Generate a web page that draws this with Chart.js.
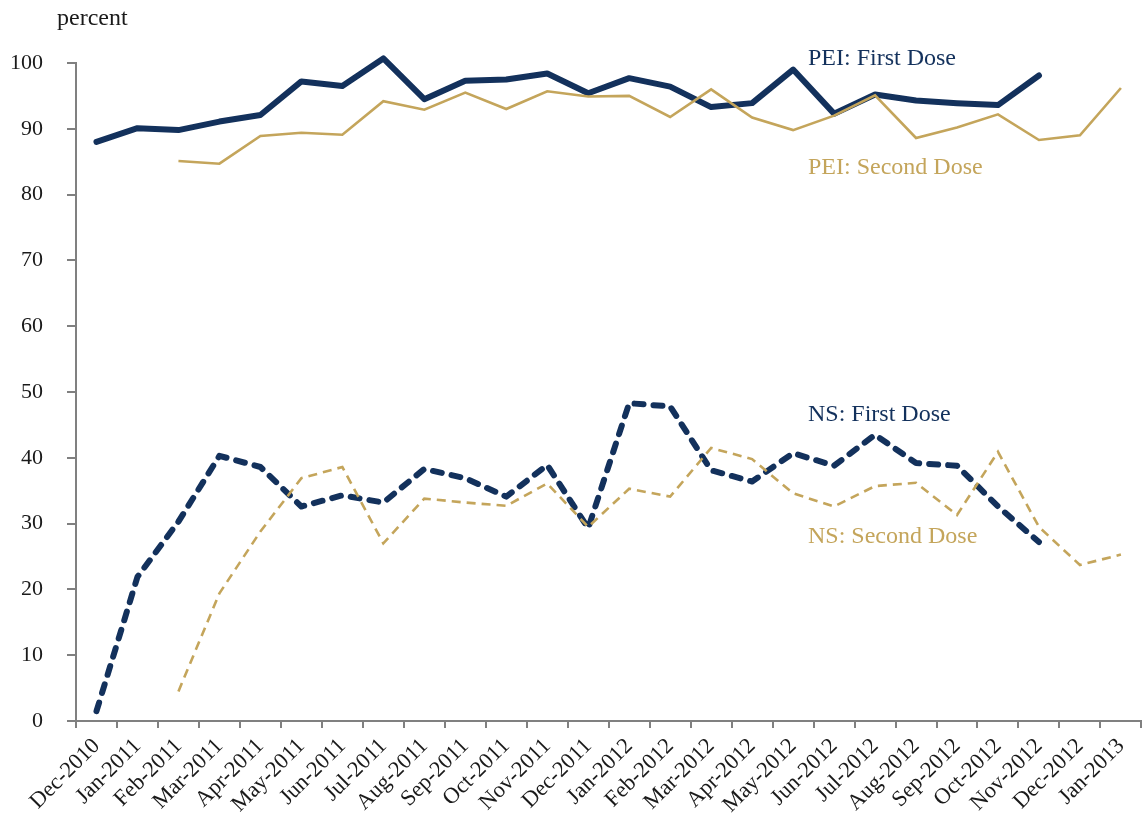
<!DOCTYPE html>
<html><head><meta charset="utf-8">
<script src="https://cdn.jsdelivr.net/npm/chart.js@4/dist/chart.umd.min.js"></script>
<style>html,body{margin:0;padding:0;background:#fff;overflow:hidden}#wrap{width:1145px;height:816px;position:relative}</style>
</head><body><div id="wrap"><canvas id="c" width="1145" height="816"></canvas></div>
<script>
const categories = ["Dec-2010","Jan-2011","Feb-2011","Mar-2011","Apr-2011","May-2011","Jun-2011","Jul-2011","Aug-2011","Sep-2011","Oct-2011","Nov-2011","Dec-2011","Jan-2012","Feb-2012","Mar-2012","Apr-2012","May-2012","Jun-2012","Jul-2012","Aug-2012","Sep-2012","Oct-2012","Nov-2012","Dec-2012","Jan-2013"];
const peiFirst  = [88.0,90.1,89.8,91.1,92.1,97.2,96.5,100.7,94.5,97.3,97.5,98.4,95.4,97.7,96.4,93.3,93.9,99.0,92.3,95.2,94.3,93.9,93.6,98.1,null,null];
const peiSecond = [null,null,85.1,84.7,88.9,89.4,89.1,94.2,92.9,95.5,93.0,95.7,94.9,95.0,91.8,96.0,91.7,89.8,92.0,95.1,88.6,90.2,92.2,88.3,89.0,96.2];
const nsFirst   = [1.5,21.9,30.3,40.3,38.6,32.6,34.3,33.2,38.3,36.9,34.1,38.9,29.3,48.3,47.8,38.1,36.4,40.7,38.8,43.5,39.2,38.8,32.6,27.2,null,null];
const nsSecond  = [null,null,4.5,19.4,28.8,36.9,38.6,27.0,33.8,33.2,32.7,36.1,29.5,35.3,34.1,41.5,39.8,34.6,32.6,35.7,36.2,31.3,40.9,29.5,23.7,25.3];
const yTicks = [0,10,20,30,40,50,60,70,80,90,100];

const NAVY = '#13315c';
const GOLD = '#c4a55b';
const AXIS = '#808080';
const TEXT = '#1a1a1a';
const FONT = 'Liberation Serif';

const labelPlugin = {
  id: 'seriesLabels',
  afterDraw(chart) {
    const ctx = chart.ctx;
    ctx.save();
    ctx.textBaseline = 'alphabetic';
    ctx.textAlign = 'left';
    ctx.font = '24px "' + FONT + '"';
    ctx.fillStyle = TEXT;
    ctx.fillText('percent', 57, 25);
    ctx.fillStyle = NAVY;
    ctx.fillText('PEI: First Dose', 808, 65);
    ctx.fillText('NS: First Dose', 808, 421);
    ctx.fillStyle = GOLD;
    ctx.fillText('PEI: Second Dose', 808, 174);
    ctx.fillText('NS: Second Dose', 808, 543);
    ctx.restore();
  }
};

new Chart(document.getElementById('c'), {
  type: 'line',
  data: {
    labels: categories,
    datasets: [
      {label:'PEI: Second Dose', data: peiSecond, borderColor: GOLD, borderWidth: 2.6, clip: false},
      {label:'PEI: First Dose', data: peiFirst, borderColor: NAVY, borderWidth: 6, clip: false, borderJoinStyle:'round', borderCapStyle:'round'},
      {label:'NS: Second Dose', data: nsSecond, borderColor: GOLD, borderWidth: 2.6, borderDash:[9,6], clip: false},
      {label:'NS: First Dose', data: nsFirst, borderColor: NAVY, borderWidth: 6, borderDash:[9,10], borderCapStyle:'round', borderJoinStyle:'round', clip: false}
    ]
  },
  options: {
    responsive: false,
    animation: false,
    devicePixelRatio: 1,
    layout: {padding: {top: 63, left: 0, right: 0, bottom: 0}},
    plugins: {legend: {display: false}, tooltip: {enabled: false}, title: {display: false}},
    elements: {point: {radius: 0, hoverRadius: 0}, line: {tension: 0, fill: false}},
    scales: {
      x: {
        type: 'category',
        offset: true,
        grid: {offset: true, drawOnChartArea: false, drawTicks: true, tickLength: 7, color: AXIS, lineWidth: 2},
        border: {display: true, color: AXIS, width: 2},
        ticks: {autoSkip: false, maxRotation: 45, minRotation: 45, padding: 5, color: TEXT, font: {family: FONT, size: 22.5}},
        afterFit(s) { s.height = 95; }
      },
      y: {
        min: 0, max: 100,
        afterBuildTicks(s) { s.ticks = yTicks.map(v => ({value: v})); },
        grid: {drawOnChartArea: false, drawTicks: true, tickLength: 9, color: AXIS, lineWidth: 2},
        border: {display: true, color: AXIS, width: 2},
        ticks: {padding: 24, color: TEXT, font: {family: FONT, size: 22}},
        afterFit(s) { s.width = 76; }
      }
    }
  },
  plugins: [labelPlugin]
});
</script>
</body></html>
